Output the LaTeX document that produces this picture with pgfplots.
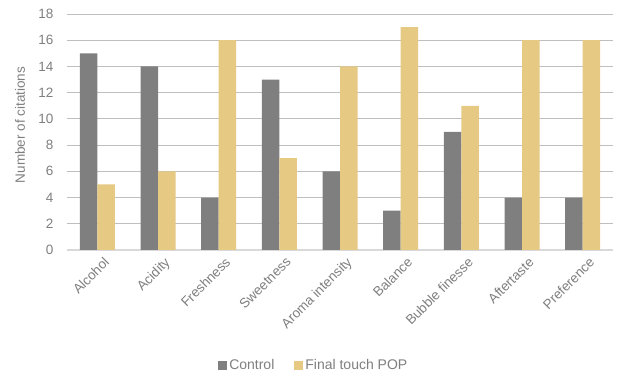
\documentclass[border=0pt]{standalone}
\usepackage{pgfplots}
\pgfplotsset{compat=1.18}
\usepackage{fontspec}
\setmainfont{Liberation Sans}
\definecolor{ctrl}{HTML}{7F7F7F}
\definecolor{pop}{HTML}{E6C982}
\definecolor{grid}{HTML}{D9D9D9}
\definecolor{txt}{HTML}{7F7F7F}
\begin{document}
\begin{tikzpicture}
\useasboundingbox (-67pt,-129pt) rectangle (550pt,250pt);
\begin{axis}[
  scale only axis,
  width=546pt, height=236pt,
  ybar, bar width=17.5pt,
  xmin=-0.5, xmax=8.5,
  ymin=0, ymax=18, ytick={0,2,...,18},
  xtick={0,...,8},
  xticklabels={Alcohol,Acidity,Freshness,Sweetness,Aroma intensity,Balance,Bubble finesse,Aftertaste,Preference},
  x tick label style={rotate=45, anchor=north east, xshift=3pt, yshift=-5pt},
  xmajorgrids=false, ymajorgrids, major grid style={grid, line width=0.9pt},
  axis x line*=bottom, axis y line*=left,
  x axis line style={grid, line width=1.2pt, -},
  y axis line style={draw=none},
  major tick length=0pt, tick style={draw=none},
  tick label style={font=\fontsize{13.5}{16}\selectfont, text=txt},
  /pgf/number format/assume math mode=true,
  ylabel={Number of citations},
  every axis y label/.style={at={(rel axis cs:-0.086,0.53)}, rotate=90, anchor=center,
    font=\fontsize{13.5}{16}\selectfont, text=txt},
  yticklabel style={xshift=-10pt},
  legend style={draw=none, at={(0.452,-0.49)}, anchor=center, legend columns=2,
    font=\fontsize{14}{16}\selectfont, text=txt,
    /tikz/every even column/.append style={column sep=18pt}},
  legend image code/.code={\fill[#1] (0pt,-4.5pt) rectangle (9pt,4.5pt);},
  clip=false,
]
\addplot[fill=ctrl, draw=none, bar shift=-8.75pt] coordinates {(0,15) (1,14) (2,4) (3,13) (4,6) (5,3) (6,9) (7,4) (8,4)};
\addplot[fill=pop, draw=none, bar shift=8.75pt] coordinates {(0,5) (1,6) (2,16) (3,7) (4,14) (5,17) (6,11) (7,16) (8,16)};
\legend{Control, Final touch POP}
\end{axis}
\end{tikzpicture}
\end{document}
